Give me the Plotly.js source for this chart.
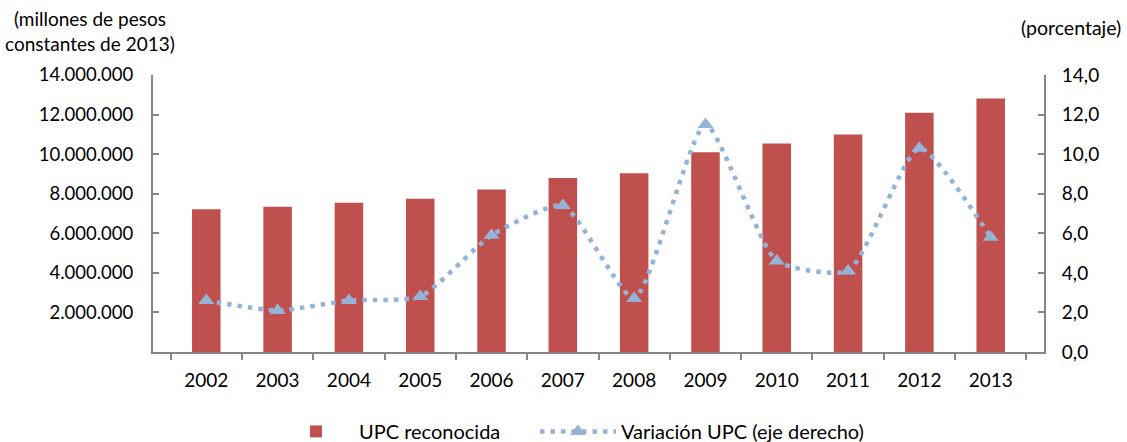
<!DOCTYPE html>
<html>
<head>
<meta charset="utf-8">
<script src="https://cdn.plot.ly/plotly-3.0.1.min.js"></script>
<style>
  html, body { margin: 0; padding: 0; background: #fff; }
  #chart { width: 1127px; height: 442px; }
</style>
</head>
<body>
<div id="chart"></div>
<script>
// --- datos ---
const anios = ['2002', '2003', '2004', '2005', '2006', '2007', '2008', '2009', '2010', '2011', '2012', '2013'];
const upcReconocida = [7210000, 7340000, 7540000, 7740000, 8210000, 8800000, 9030000, 10090000, 10540000, 10990000, 12090000, 12810000];
const variacionUpc = [2.6, 2.1, 2.6, 2.8, 5.9, 7.4, 2.7, 11.5, 4.6, 4.1, 10.3, 5.8];
const ticksIzq = [2000000, 4000000, 6000000, 8000000, 10000000, 12000000, 14000000];
const ticksDer = [0, 2, 4, 6, 8, 10, 12, 14];

const fuente = "Lato, 'Open Sans', sans-serif";
const gris = '#868686';

const barras = {
    x: anios,
    y: upcReconocida,
    type: 'bar',
    name: 'UPC reconocida',
    marker: { color: '#c0504d' },
    hoverinfo: 'x+y',
    showlegend: true,
    legend: 'legend'
};

const linea = {
    x: anios,
    y: variacionUpc,
    type: 'scatter',
    mode: 'lines+markers',
    name: 'Variación UPC (eje derecho)',
    yaxis: 'y2',
    line: { color: '#95b3d7', width: 4.5, dash: '4.5px,6px', shape: 'spline', smoothing: 0.55 },
    marker: { symbol: 'triangle-up', size: 14, color: '#95b3d7' },
    showlegend: true,
    legend: 'legend2'
};

// leyendas separadas para poder ubicar cada entrada como en el original
const baseLeyenda = {
    orientation: 'h',
    xref: 'container', yref: 'container',
    xanchor: 'left',
    y: 0.024, yanchor: 'middle',
    font: { family: fuente, size: 20 },
    itemwidth: 76,
    bgcolor: 'rgba(0,0,0,0)'
};

const layout = {
    width: 1127,
    height: 442,
    showlegend: true,
    margin: { l: 153, r: 83, t: 75, b: 90 },
    paper_bgcolor: '#fff',
    plot_bgcolor: '#fff',
    separators: ',.',
    font: { family: fuente, size: 18.5, color: '#000' },
    bargap: 0.6,
    xaxis: {
        type: 'category',
        showline: true, linecolor: gris, linewidth: 2,
        ticks: 'outside', tickson: 'boundaries', ticklen: 6, tickcolor: gris, tickwidth: 2,
        tickfont: { size: 19 },
        ticklabelstandoff: 10,
        showgrid: false, zeroline: false,
        fixedrange: true
    },
    yaxis: {
        range: [0, 14000000],
        tickvals: ticksIzq,
        tickformat: ',d',
        showline: true, linecolor: gris, linewidth: 2,
        ticks: 'inside', ticklen: 6, tickcolor: gris, tickwidth: 2,
        showgrid: false, zeroline: false,
        ticklabelstandoff: 14
    },
    yaxis2: {
        overlaying: 'y',
        side: 'right',
        range: [0, 14],
        tickvals: ticksDer,
        tickformat: '.1f',
        showline: true, linecolor: gris, linewidth: 2,
        ticks: 'inside', ticklen: 6, tickcolor: gris, tickwidth: 2,
        tickfont: { size: 19 },
        showgrid: false, zeroline: false,
        ticklabelstandoff: 12
    },
    legend: { ...baseLeyenda, x: 0.2422 },
    legend2: { ...baseLeyenda, x: 0.4747 },
    annotations: [
        {
            xref: 'paper', yref: 'paper',
            x: -0.0707, y: 1.159, xanchor: 'center', yanchor: 'middle',
            text: '(millones de pesos<br>constantes de 2013)',
            showarrow: false, align: 'center',
            font: { family: fuente, size: 19 }
        },
        {
            xref: 'paper', yref: 'paper',
            x: 1.030, y: 1.173, xanchor: 'center', yanchor: 'middle',
            text: '(porcentaje)',
            showarrow: false,
            font: { family: fuente, size: 19.5 }
        }
    ]
};

Plotly.newPlot('chart', [barras, linea], layout, { displayModeBar: false, responsive: false });
</script>
</body>
</html>
